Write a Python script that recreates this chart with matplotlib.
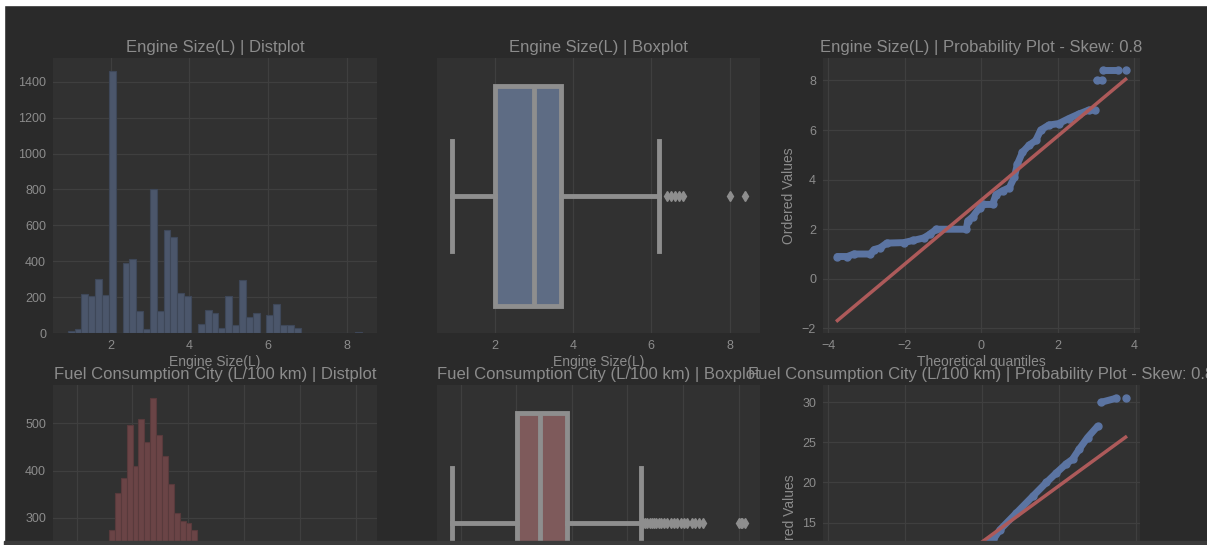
import matplotlib
matplotlib.use('Agg')
import matplotlib.pyplot as plt
import numpy as np
from matplotlib.patches import Rectangle

plt.rcParams['font.family'] = ['Liberation Sans', 'DejaVu Sans']

# dark notebook theme colours
FIG_BG = '#2a2a2a'
AX_BG = '#313131'
GRID = '#3f3f3f'
TEXT = '#8c8c8c'
BOX_LINE = '#8e8e8e'

nan = float('nan')

# ---- Engine Size(L) ----
engine_min, engine_max = 0.9, 8.4
engine_counts = [10, 20, 215, 205, 300, 210, 1460, 0, 390, 415,
                 125, 25, 805, 125, 575, 535, 225, 205, 0, 50,
                 130, 110, 30, 205, 45, 295, 90, 110, 0, 100,
                 160, 45, 45, 30, 0, 0, 0, 0, 0, 0,
                 2, 0, 3]
engine_box = dict(q1=2.0, med=3.0, q3=3.7, whislo=0.9, whishi=6.2,
                  fliers=[6.4, 6.5, 6.6, 6.7, 6.8, 8.0, 8.4])
engine_q = [-3.76, -3.5, -3.33, -2.9, -2.8, -2.64, -2.47, -2.03, -1.77, -1.5,
            -1.34, -1.17, -0.39, -0.35, -0.22, -0.04, 0.04, 0.3, 0.39, 0.56,
            0.74, 0.87, 0.95, 1.08, 1.25, 1.43, 1.56, 1.77, 2.03, 2.29,
            2.55, 2.81, 2.98, nan, 3.03, 3.15, nan, 3.2, 3.59, nan, 3.78]
engine_v = [0.9, 0.9, 1.0, 1.0, 1.18, 1.25, 1.44, 1.46, 1.55, 1.65,
            1.8, 2.0, 2.0, 2.33, 2.5, 2.87, 3.0, 3.0, 3.4, 3.55,
            3.68, 4.1, 4.63, 5.1, 5.38, 5.58, 6.0, 6.2, 6.26, 6.46,
            6.64, 6.8, 6.8, nan, 8.0, 8.0, nan, 8.4, 8.4, nan, 8.4]
engine_fit = (1.29, 3.17)  # slope, intercept
engine_skew = 0.8

# ---- Fuel Consumption City (L/100 km) ----
fuel_min, fuel_max = 4.2, 30.6
fuel_counts = [5, 15, 30, 60, 100, 150, 210,
               275, 353, 384, 497, 410, 508, 460, 553, 475, 430, 372, 310, 293, 290, 275,
               240, 210, 180, 150, 130, 110, 90, 80, 65, 55, 45, 35, 30, 25, 20, 15, 10,
               8, 6, 4, 3, 2, 0, 0, 0, 0, 0, 8]
fuel_box = dict(q1=10.1, med=12.1, q3=14.6, whislo=4.2, whishi=21.2,
                fliers=[21.4, 21.6, 21.8, 22.0, 22.2, 22.4, 22.6, 22.8, 23.0, 23.3,
                        23.6, 23.9, 24.2, 24.5, 24.8, 25.1, 25.4, 25.8, 26.1, 26.4,
                        26.8, 30.0, 30.2, 30.3, 30.6])
fuel_q = [-3.76, -3.0, -2.5, -2.0, -1.5, -1.0, -0.5, 0.0, 0.3, 0.47,
          0.9, 1.33, 1.68, 1.94, 2.19, 2.36, 2.54, 2.75, 3.01, nan,
          3.1, 3.49, nan, 3.74]
fuel_v = [4.2, 5.6, 6.7, 7.7, 8.8, 9.9, 11.0, 12.1, 12.9, 14.1,
          16.2, 18.3, 20.0, 21.2, 22.3, 22.9, 24.2, 25.6, 27.0, nan,
          30.0, 30.5, nan, 30.6]
fuel_fit = (3.50, 12.56)
fuel_skew = 0.8

rows = [
    dict(name='Engine Size(L)', lo=engine_min, hi=engine_max, counts=engine_counts,
         box=engine_box, q=engine_q, v=engine_v, fit=engine_fit, skew=engine_skew,
         face='#4b566b', edge='#3e4758', boxface='#5e6c84'),
    dict(name='Fuel Consumption City (L/100 km)', lo=fuel_min, hi=fuel_max, counts=fuel_counts,
         box=fuel_box, q=fuel_q, v=fuel_v, fit=fuel_fit, skew=fuel_skew,
         face='#6a4446', edge='#583a3c', boxface='#7e5a5b'),
]

W, H = 1207, 545
fig = plt.figure(figsize=(W / 100, H / 100), dpi=100, facecolor=FIG_BG)

col_x = [(53, 377), (437, 760), (823, 1140)]
row_top = [58, 385]
ax_h = 275


def style(ax, grid_axis='both'):
    ax.set_facecolor(AX_BG)
    for s in ax.spines.values():
        s.set_visible(False)
    ax.grid(True, axis=grid_axis, color=GRID, linewidth=0.9)
    ax.set_axisbelow(True)
    ax.tick_params(length=0, pad=5, labelsize=9, colors=TEXT)


def keep_visible_yticks(ax):
    # the screenshot is cut at the bottom: drop tick labels that fall off the picture
    lim = ax.get_ylim()
    ticks = [t for t in ax.get_yticks()
             if lim[0] <= t <= lim[1] and ax.transData.transform((0, t))[1] > 8]
    ax.set_yticks(ticks)
    ax.set_ylim(lim)


for r, row in enumerate(rows):
    axes = []
    for x0, x1 in col_x:
        rect = [x0 / W, 1 - (row_top[r] + ax_h) / H, (x1 - x0) / W, ax_h / H]
        axes.append(fig.add_axes(rect))
    ax1, ax2, ax3 = axes

    # histogram
    style(ax1)
    edges = np.linspace(row['lo'], row['hi'], len(row['counts']) + 1)
    ax1.bar(edges[:-1], row['counts'], width=np.diff(edges), align='edge',
            color=row['face'], edgecolor=row['edge'], linewidth=0.8)
    ax1.set_title(row['name'] + ' | Distplot', color=TEXT, fontsize=12, pad=4)

    # boxplot
    style(ax2, 'x')
    ax2.bxp([row['box']], positions=[0], widths=0.8, orientation='horizontal',
            patch_artist=True,
            boxprops=dict(facecolor=row['boxface'], edgecolor=BOX_LINE, linewidth=3.5),
            medianprops=dict(color=BOX_LINE, linewidth=3.5),
            whiskerprops=dict(color=BOX_LINE, linewidth=3.5),
            capprops=dict(color=BOX_LINE, linewidth=3.5),
            flierprops=dict(marker='d', markerfacecolor=BOX_LINE,
                            markeredgecolor=BOX_LINE, markersize=5))
    ax2.set_ylim(0.5, -0.5)
    ax2.set_yticks([])
    ax2.set_title(row['name'] + ' | Boxplot', color=TEXT, fontsize=12, pad=4)

    # probability plot
    style(ax3)
    ax3.plot(row['q'], row['v'], 'o-', color='#5b74a2', markersize=5, linewidth=5,
             solid_capstyle='round')
    slope, intercept = row['fit']
    qq = np.array([np.nanmin(row['q']), np.nanmax(row['q'])])
    ax3.plot(qq, intercept + slope * qq, color='#ad5a5a', linewidth=2.5)
    ax3.set_title(row['name'] + ' | Probability Plot - Skew: ' + str(row['skew']),
                  color=TEXT, fontsize=12, pad=4)
    ax3.set_ylabel('Ordered Values', color=TEXT, fontsize=10)

    if r == 0:
        ax1.set_xlabel(row['name'], color=TEXT, fontsize=10, labelpad=2)
        ax2.set_xlabel(row['name'], color=TEXT, fontsize=10, labelpad=2)
        ax3.set_xlabel('Theoretical quantiles', color=TEXT, fontsize=10, labelpad=2)
    else:
        # lower row continues below the visible part of the screenshot
        for ax in axes:
            ax.tick_params(labelbottom=False)
        keep_visible_yticks(ax1)
        keep_visible_yticks(ax3)

# screenshot edges
fig.add_artist(Rectangle((0, 1 - 5 / H), 1, 5 / H, transform=fig.transFigure,
                         color='white', zorder=10))
fig.add_artist(Rectangle((0, 0), 4 / W, 1, transform=fig.transFigure,
                         color='white', zorder=10))
fig.add_artist(Rectangle((4 / W, 0), 1, 4 / H, transform=fig.transFigure,
                         color='#3b3b3b', zorder=10))

fig.savefig('out.png', dpi=100, facecolor=FIG_BG)
